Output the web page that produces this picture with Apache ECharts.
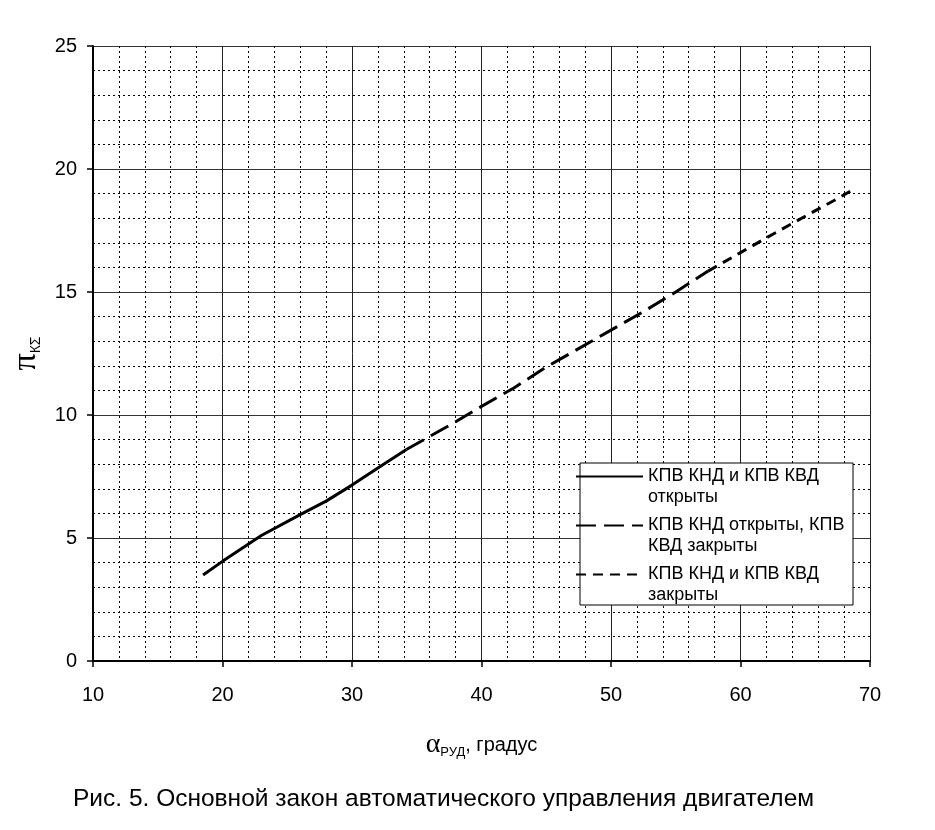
<!DOCTYPE html>
<html>
<head>
<meta charset="utf-8">
<script src="https://cdn.jsdelivr.net/npm/echarts@6/dist/echarts.min.js"></script>
<style>
    html, body { margin: 0; padding: 0; background: #fff; }
    #chart { width: 935px; height: 830px; }
</style>
</head>
<body>
<div id="chart"></div>
<script>
// values
const openX = [18.5, 20, 23, 26, 28, 30, 32, 34.2]
const openY = [3.5, 4.05, 5.1, 5.95, 6.5, 7.15, 7.85, 8.6]

const halfX = [34.2, 37.6, 40, 42.5, 45, 47.5, 50, 52.5, 55, 57.5]
const halfY = [8.6, 9.6, 10.35, 11.1, 11.95, 12.7, 13.45, 14.2, 15.0, 15.85]

const closedX = [57.5, 60, 62.5, 65, 67.5, 68.8]
const closedY = [15.85, 16.6, 17.35, 18.08, 18.8, 19.2]

const seriesNames = [
    "КПВ КНД и КПВ КВД\nоткрыты",
    "КПВ КНД открыты, КПВ\nКВД закрыты",
    "КПВ КНД и КПВ КВД\nзакрыты",
]
const caption = "Рис. 5. Основной закон автоматического управления двигателем"

const FONT = "Liberation Sans, Arial, sans-serif"
const SERIF = "Liberation Serif, Times New Roman, serif"
const zip = (xs, ys) => xs.map((x, i) => [x, ys[i]])

function lineSeries(name, xs, ys, dash) {
    return {
        name: name,
        type: "line",
        data: zip(xs, ys),
        symbol: "none",
        itemStyle: { color: "#000" },
        lineStyle: { color: "#000", width: 3, type: dash },
        z: 5,
    }
}

const chart = echarts.init(document.getElementById("chart"))
chart.setOption({
    animation: false,
    backgroundColor: "#fff",
    textStyle: { fontFamily: FONT, color: "#000" },
    title: {
        text: caption,
        left: 73,
        top: 787,
        padding: 0,
        textStyle: { fontFamily: FONT, fontSize: 24.5, fontWeight: "normal", color: "#000" },
    },
    grid: { left: 93, right: 65, top: 46, bottom: 169, containLabel: false },
    // legend box drawn separately so the icon can sit on the first text line
    graphic: [{
        type: "rect",
        z: 3,
        shape: { x: 580, y: 463, width: 273, height: 142 },
        style: { fill: "#fff", stroke: "#000", lineWidth: 1 },
    }],
    legend: {
        orient: "vertical",
        left: 575,
        top: 445,
        padding: 0,
        itemGap: -14,
        itemWidth: 67,
        itemHeight: 14,
        z: 6,
        itemStyle: { opacity: 0 },
        // empty first line puts the icon level with the first text line
        formatter: name => "\n" + name,
        textStyle: {
            fontFamily: FONT,
            fontSize: 18,
            lineHeight: 21,
            color: "#000",
        },
        data: seriesNames,
    },
    xAxis: {
        type: "value",
        min: 10,
        max: 70,
        interval: 10,
        name: "{a|α}{s|РУД}{t|, градус}",
        nameLocation: "middle",
        nameGap: 70,
        nameTextStyle: {
            rich: {
                a: { fontFamily: SERIF, fontSize: 28, color: "#000" },
                s: { fontFamily: FONT, fontSize: 13, color: "#000", verticalAlign: "bottom", padding: [8, 0, 0, 0] },
                t: { fontFamily: FONT, fontSize: 20, color: "#000" },
            },
        },
        axisLine: { show: true, onZero: false, lineStyle: { color: "#000", width: 2 } },
        axisTick: { show: true, length: 6, lineStyle: { color: "#000", width: 1.5 } },
        axisLabel: { fontFamily: FONT, fontSize: 20, color: "#000", margin: 24 },
        splitLine: { show: true, lineStyle: { color: "#222", width: 1 } },
        minorTick: { show: false, splitNumber: 5 },
        minorSplitLine: { show: true, lineStyle: { color: "#000", width: 1, type: [2, 3] } },
    },
    yAxis: {
        type: "value",
        min: 0,
        max: 25,
        interval: 5,
        name: "{p|π}{s|КΣ}",
        nameLocation: "middle",
        nameRotate: 90,
        nameGap: 50,
        nameTextStyle: {
            rich: {
                p: { fontFamily: SERIF, fontSize: 34, color: "#000" },
                s: { fontFamily: FONT, fontSize: 14, color: "#000", verticalAlign: "bottom", padding: [12, 0, 0, 0] },
            },
        },
        axisLine: { show: true, lineStyle: { color: "#000", width: 2 } },
        axisTick: { show: true, length: 6, lineStyle: { color: "#000", width: 1.5 } },
        axisLabel: { fontFamily: FONT, fontSize: 20, color: "#000", margin: 16 },
        splitLine: { show: true, lineStyle: { color: "#333", width: 1 } },
        minorTick: { show: false, splitNumber: 5 },
        minorSplitLine: { show: true, lineStyle: { color: "#000", width: 1, type: [2, 3] } },
    },
    series: [
        lineSeries(seriesNames[0], openX, openY, "solid"),
        lineSeries(seriesNames[1], halfX, halfY, [20, 8]),
        lineSeries(seriesNames[2], closedX, closedY, [10, 7]),
    ],
})
</script>
</body>
</html>
